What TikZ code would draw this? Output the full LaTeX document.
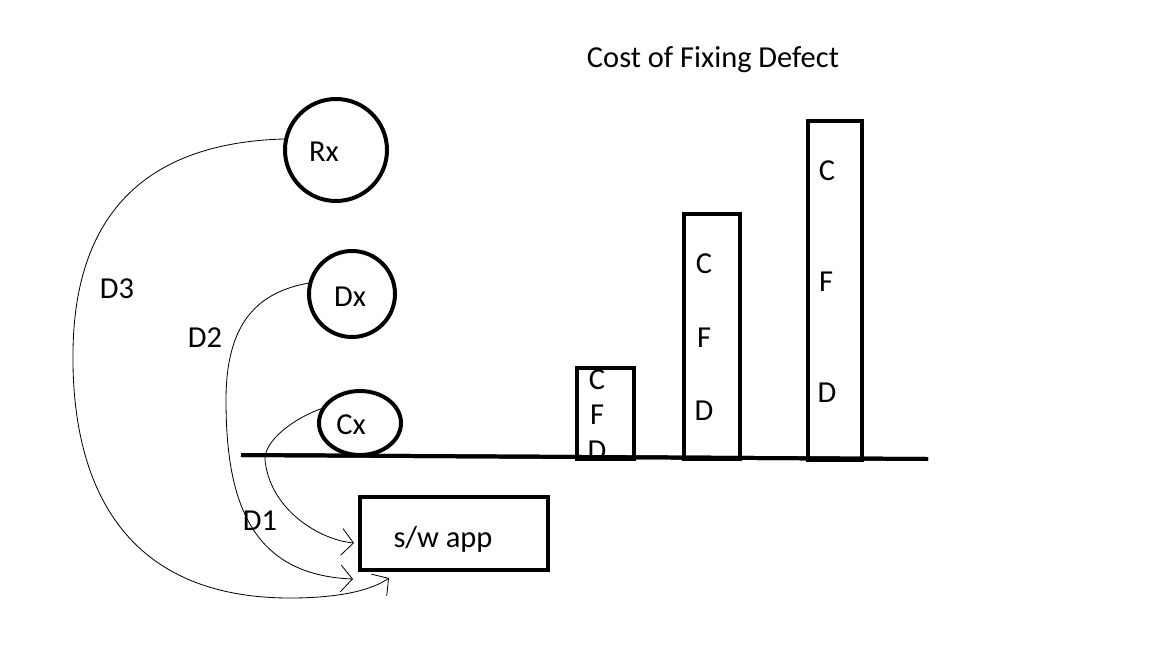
\documentclass[tikz,border=0pt]{standalone}
\usepackage{fontspec}
\setmainfont{Carlito}
\usetikzlibrary{arrows.meta,shapes.geometric}
\begin{document}
\begin{tikzpicture}[x=0.03cm,y=-0.03cm,
  thick line/.style={line width=3.4pt},
  txt/.style={font=\fontsize{26}{31}\selectfont, inner sep=0pt},
  curve/.style={line width=0.7pt, -{Straight Barb[length=3.5mm,width=8mm,line width=0.7pt]}},
  bubble/.style={draw, thick line, circle, inner sep=0pt},
  bar/.style={draw, thick line, rectangle, inner sep=0pt}]
\path[use as bounding box, fill=white] (0,0) rectangle (1152,648);

% title
\node[txt] (title) at (713,60) {Cost of Fixing Defect};

% circles
\node[bubble, minimum size=3.06cm] (Rx) at (336,150) {};
\node[bubble, minimum size=2.58cm] (Dx) at (352,294) {};
\node[draw, thick line, ellipse, inner sep=0pt, minimum width=2.46cm, minimum height=1.92cm] (Cx) at (360,423) {};
\node[txt] (Rxt) at (324,152) {Rx};
\node[txt] (Dxt) at (350,297) {Dx};
\node[txt] (Cxt) at (351,425) {Cx};

% ground line
\coordinate (gl) at (241,455);
\coordinate (gr) at (928,459);
\draw[thick line] (gl) -- (gr);

% app box
\node[bar, minimum width=5.64cm, minimum height=2.19cm] (app) at (454,533.5) {};
\node[txt] (appt) at (443,539) {s/w app};

% bar letters
\node[txt] (c1) at (597,380) {C};
\node[txt] (f1) at (597,415) {F};
\node[txt] (d1) at (597,451) {D};
\node[txt] (c2) at (704,264) {C};
\node[txt] (f2) at (704,338) {F};
\node[txt] (d2) at (704,411) {D};
\node[txt] (c3) at (827,171) {C};
\node[txt] (f3) at (826,282) {F};
\node[txt] (d3) at (827,393) {D};

% bars
\node[bar, minimum width=1.71cm, minimum height=2.73cm] (b1) at (605.5,413.5) {};
\node[bar, minimum width=1.68cm, minimum height=7.35cm] (b2) at (712,336.5) {};
\node[bar, minimum width=1.62cm, minimum height=10.17cm] (b3) at (835,290.5) {};
\draw[thick line] (gl) -- (gr);

% labels
\node[txt] (D3) at (117,289) {D3};
\node[txt] (D2) at (205,338) {D2};
\node[txt] (D1) at (260,521) {D1};

% connectors
\coordinate (e3) at (389,578);
\coordinate (e2) at (353,579);
\coordinate (e1) at (354,543);
\draw[curve] (Rx.168) .. controls (140,143) and (75,220) .. (73,350)
  .. controls (71,480) and (120,598) .. (290,598)
  .. controls (340,598) and (372,590) .. (e3);
\draw[curve] (Dx.166) .. controls (260,292) and (226,320) .. (226,400)
  .. controls (226,500) and (250,575) .. (e2);
\draw[curve] (Cx.160) .. controls (295,418) and (264,440) .. (265,460)
  .. controls (270,510) and (320,540) .. (e1);
\end{tikzpicture}
\end{document}
